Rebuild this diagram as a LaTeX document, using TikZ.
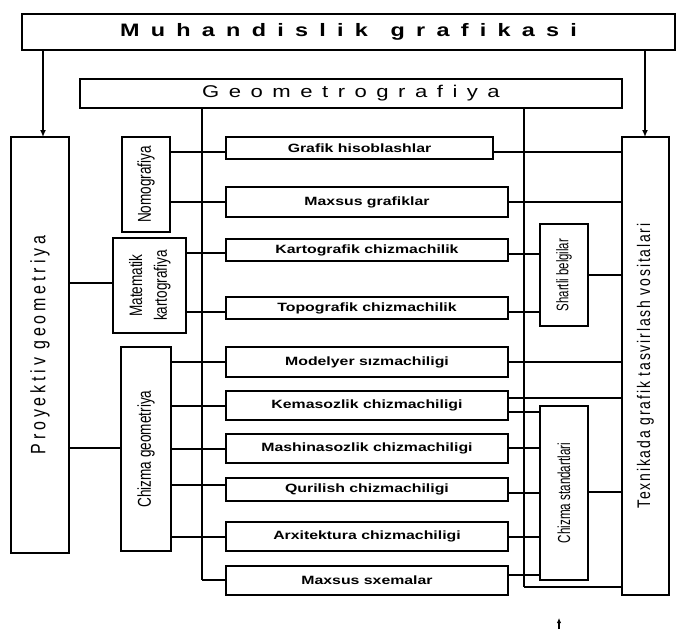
\documentclass[tikz,border=0pt]{standalone}
\usepackage{fontspec}
\setmainfont{Liberation Sans}
\newfontfamily\spacedM[LetterSpace=48]{Liberation Sans}
\newfontfamily\spacedG[LetterSpace=43]{Liberation Sans}
\newfontfamily\spacedP[LetterSpace=24]{Liberation Sans}
\newfontfamily\spacedT[LetterSpace=13]{Liberation Sans}
\usetikzlibrary{arrows.meta}
\newcommand\hlab[1]{\scalebox{1.32}[1]{\fontsize{12}{14}\selectfont\bfseries #1}}
\newcommand\vlab[3]{\rotatebox{90}{\scalebox{#1}[#2]{\fontsize{12}{16.5}\selectfont #3}}}
\newcommand\conn[3]{\draw[link] (#1 |- 0,#3) -- (#2 |- 0,#3);}
\begin{document}
\begin{tikzpicture}[x=1pt,y=-1pt,
  box/.style={draw, line width=1.9pt, inner sep=0pt, outer sep=0pt, anchor=north west, align=center},
  bus/.style={line width=2.8pt},
  link/.style={line width=1.9pt},
  arr/.style={line width=1.9pt, -{Latex[length=7pt,width=6pt]}}]
\useasboundingbox (0,0) rectangle (677,630);
% top boxes
\node[box, minimum width=653pt, minimum height=36pt] (top) at (22,14)
  {\scalebox{1.3}[1]{\fontsize{18}{20}\spacedM\bfseries Muhandislik\hspace{4pt} grafikasi}};
\node[box, minimum width=542pt, minimum height=29pt] (geo) at (80,79)
  {\scalebox{1.3}[1]{\fontsize{17}{19}\spacedG Geometrografiya}};
% side boxes
\node[box, minimum width=58pt, minimum height=416pt] (proy) at (11,137)
  {\rotatebox{90}{\scalebox{1}[1.3]{\fontsize{16}{18}\spacedP Proyektiv geometriya}}};
\node[box, minimum width=47pt, minimum height=458pt] (tex) at (622,137)
  {\rotatebox{90}{\scalebox{1}[1.3]{\fontsize{14}{16}\spacedT Texnikada grafik tasvirlash vositalari}}};
% inner left boxes
\node[box, minimum width=48pt, minimum height=95pt] (nomo) at (122,137) {\vlab{1.13}{1.55}{Nomografiya}};
\node[box, minimum width=73pt, minimum height=95pt] (mat) at (113,238)
  {\vlab{1.13}{1.5}{\begin{tabular}{@{}c@{}}Matematik\\kartografiya\end{tabular}}};
\node[box, minimum width=50pt, minimum height=204pt] (chg) at (121,347) {\vlab{1.13}{1.55}{Chizma geometriya}};
% inner right boxes
\node[box, minimum width=48pt, minimum height=102pt] (shb) at (540,224) {\vlab{0.95}{1.4}{Shartli belgilar}};
\node[box, minimum width=48pt, minimum height=174pt] (std) at (540,406) {\vlab{0.97}{1.45}{Chizma standartlari}};
% middle boxes
\node[box, minimum width=267pt, minimum height=22pt] (g1) at (226,137) {\hlab{Grafik hisoblashlar}};
\node[box, minimum width=282pt, minimum height=30pt] (g2) at (226,187) {\hlab{Maxsus grafiklar}};
\node[box, minimum width=282pt, minimum height=22pt] (g3) at (226,239) {\hlab{Kartografik chizmachilik}};
\node[box, minimum width=282pt, minimum height=22pt] (g4) at (226,297) {\hlab{Topografik chizmachilik}};
\node[box, minimum width=282pt, minimum height=30pt] (g5) at (226,347) {\hlab{Modelyer sızmachiligi}};
\node[box, minimum width=282pt, minimum height=29pt] (g6) at (226,391) {\hlab{Kemasozlik chizmachiligi}};
\node[box, minimum width=282pt, minimum height=29pt] (g7) at (226,434) {\hlab{Mashinasozlik chizmachiligi}};
\node[box, minimum width=282pt, minimum height=23pt] (g8) at (226,478) {\hlab{Qurilish chizmachiligi}};
\node[box, minimum width=282pt, minimum height=29pt] (g9) at (226,522) {\hlab{Arxitektura chizmachiligi}};
\node[box, minimum width=282pt, minimum height=29pt] (g10) at (226,566) {\hlab{Maxsus sxemalar}};
% buses
\coordinate (bl) at (202,0);
\coordinate (br) at (524,0);
\draw[bus] (geo.south -| bl) -- (bl |- 0,580);
\draw[link] (bl |- 0,580) -- (g10.west |- 0,580);
\draw[bus] (geo.south -| br) -- (br |- 0,587);
\draw[link] (br |- 0,587) -- (tex.west |- 0,587);
% arrows from top
\draw[arr] (top.south -| 43,0) -- (proy.north -| 43,0);
\draw[arr] (top.south -| 645,0) -- (tex.north -| 645,0);
% left connectors
\conn{nomo.east}{g1.west}{152}
\conn{nomo.east}{g2.west}{202}
\conn{mat.east}{g3.west}{253}
\conn{mat.east}{g4.west}{312}
\conn{chg.east}{g5.west}{362}
\conn{chg.east}{g6.west}{406}
\conn{chg.east}{g7.west}{449}
\conn{chg.east}{g8.west}{485}
\conn{chg.east}{g9.west}{537}
\conn{proy.east}{mat.west}{283}
\conn{proy.east}{chg.west}{448}
% right connectors
\conn{g1.east}{tex.west}{152}
\conn{g2.east}{tex.west}{202}
\conn{g3.east}{shb.west}{254}
\conn{g4.east}{shb.west}{312}
\conn{shb.east}{tex.west}{275}
\conn{g5.east}{tex.west}{362}
\conn{g6.east}{tex.west}{398}
\conn{g6.east}{std.west}{412}
\conn{g7.east}{std.west}{448}
\conn{g8.east}{std.west}{493}
\conn{std.east}{tex.west}{492}
\conn{g9.east}{std.west}{537}
\conn{g10.east}{std.west}{575}
% small arrow at bottom
\coordinate (sa) at (559,629);
\coordinate (sb) at (559,618);
\draw[line width=1.3pt, -{Latex[length=5pt,width=4.5pt]}] (sa) -- (sb);
\end{tikzpicture}
\end{document}
